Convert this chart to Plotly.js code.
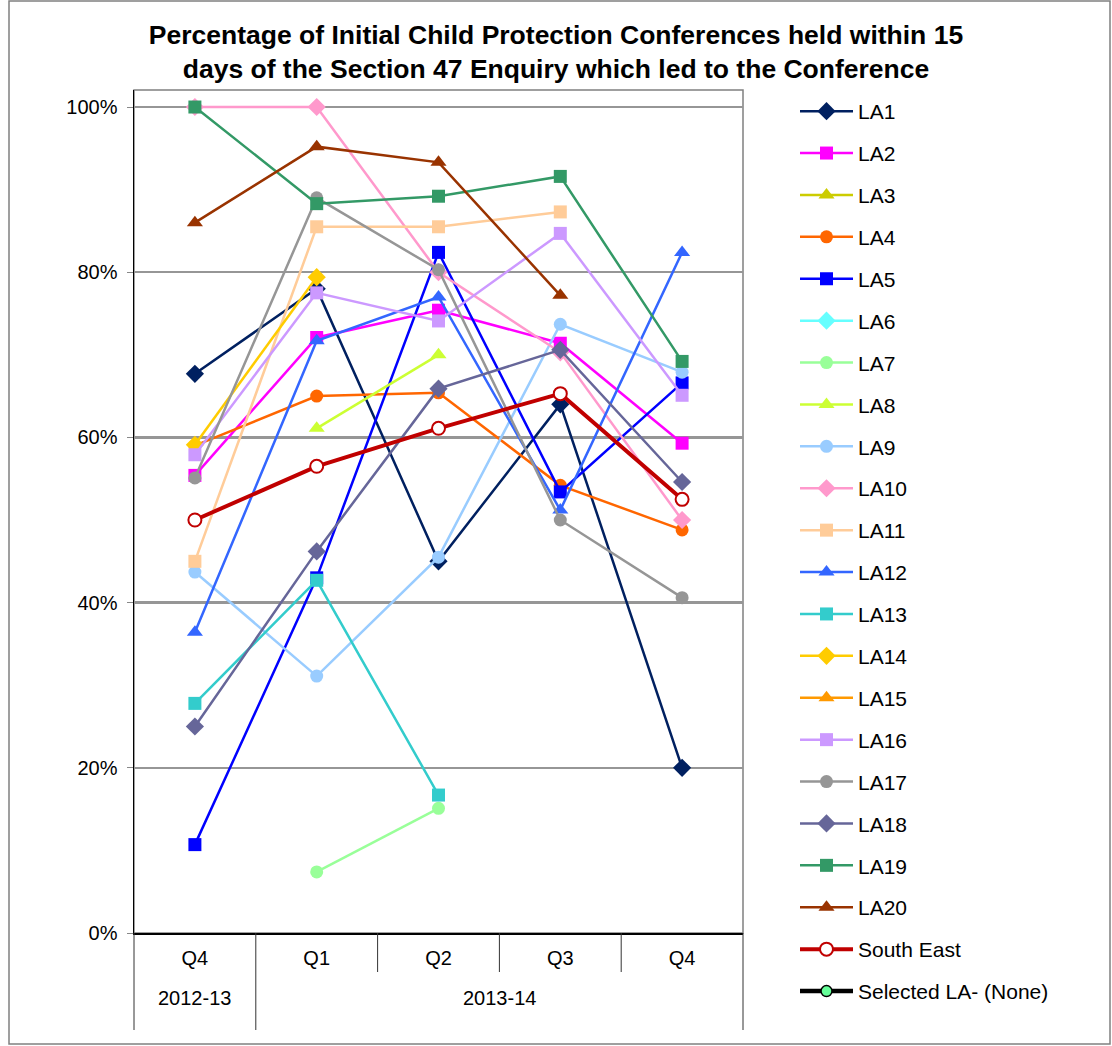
<!DOCTYPE html>
<html>
<head>
<meta charset="utf-8">
<script src="https://cdn.plot.ly/plotly-3.0.1.min.js"></script>
<style>html,body{margin:0;padding:0;background:#fff;}#chart{width:1112px;height:1046px;}</style>
</head>
<body>
<div id="chart"></div>
<script>
const years = ["2012-13", "2013-14", "2013-14", "2013-14", "2013-14"];
const quarters = ["Q4", "Q1", "Q2", "Q3", "Q4"];

const LA1 = [0.677, 0.780, 0.450, 0.640, 0.200];
const LA2 = [0.554, 0.721, 0.754, 0.714, 0.593];
const LA3 = [null, null, null, null, null];
const LA4 = [0.590, 0.650, 0.654, 0.542, 0.488];
const LA5 = [0.107, 0.430, 0.824, 0.534, 0.666];
const LA6 = [null, null, null, null, null];
const LA7 = [null, 0.074, 0.151, null, null];
const LA8 = [null, 0.611, 0.700, null, null];
const LA9 = [0.437, 0.311, 0.455, 0.737, 0.679];
const LA10 = [1.000, 1.000, 0.800, 0.703, 0.500];
const LA11 = [0.450, 0.855, 0.855, 0.873, null];
const LA12 = [0.364, 0.717, 0.770, 0.512, 0.824];
const LA13 = [0.278, 0.427, 0.167, null, null];
const LA14 = [0.591, 0.794, null, null, null];
const LA15 = [null, null, null, null, null];
const LA16 = [0.579, 0.775, 0.741, 0.847, 0.651];
const LA17 = [0.551, 0.890, 0.803, 0.500, 0.406];
const LA18 = [0.250, 0.462, 0.659, 0.706, 0.546];
const LA19 = [1.000, 0.883, 0.892, 0.916, 0.692];
const LA20 = [0.860, 0.952, 0.933, 0.772, null];
const SouthEast = [0.500, 0.565, 0.611, 0.653, 0.525];
const SelectedLA = [null, null, null, null, null];

const seriesNames = ["LA1","LA2","LA3","LA4","LA5","LA6","LA7","LA8","LA9","LA10",
  "LA11","LA12","LA13","LA14","LA15","LA16","LA17","LA18","LA19","LA20"];
const seriesValues = [LA1,LA2,LA3,LA4,LA5,LA6,LA7,LA8,LA9,LA10,
  LA11,LA12,LA13,LA14,LA15,LA16,LA17,LA18,LA19,LA20];
const colors = ["#002060","#FF00FF","#CCCC00","#FF6600","#0000FF","#66FFFF","#99FF99","#CCFF33","#99CCFF","#FF99CC",
  "#FFCC99","#3366FF","#33CCCC","#FFCC00","#FF9900","#CC99FF","#969696","#666699","#339966","#993300"];
const symbols = ["diamond","square","triangle-up","circle","square","diamond","circle","triangle-up","circle","diamond",
  "square","triangle-up","square","diamond","triangle-up","square","circle","diamond","square","triangle-up"];

const FONT = "Arial, 'Liberation Sans', sans-serif";
const xIdx = quarters.map((q, i) => i);
const traces = [];
seriesNames.forEach((n, i) => {
  const sym = symbols[i];
  let sz = 13;
  if (sym === "diamond") sz = 14;
  if (sym === "triangle-up") sz = 14;
  traces.push({
    type: "scatter", mode: "lines+markers", name: n,
    x: xIdx, y: seriesValues[i], connectgaps: false,
    line: {color: colors[i], width: 2.5},
    marker: {symbol: sym, size: sz, color: colors[i], line: {width: 0}},
    legendgroup: n
  });
});
traces.push({
  type: "scatter", mode: "lines+markers", name: "South East",
  x: xIdx, y: SouthEast,
  line: {color: "#C00000", width: 4},
  marker: {symbol: "circle", size: 13, color: "#FFFFFF", line: {color: "#C00000", width: 2}},
  legendgroup: "SE"
});
traces.push({
  type: "scatter", mode: "lines+markers", name: "Selected LA- (None)",
  x: xIdx, y: SelectedLA,
  line: {color: "#000000", width: 4.5},
  marker: {symbol: "circle", size: 11, color: "#66FF99", line: {color: "#000000", width: 1.5}},
  legendgroup: "SEL"
});

const W = 609, H = 843;
const py = (pix) => (933 - pix) / H;   // pixel row -> paper y
const px = (pix) => (pix - 134) / W;   // pixel col -> paper x

const shapes = [
  {type: "rect", xref: "paper", yref: "paper", x0: 0, x1: 1, y0: 0, y1: 1,
    line: {color: "#808080", width: 1.5}, fillcolor: "rgba(0,0,0,0)", layer: "below"},
  {type: "rect", xref: "paper", yref: "paper",
    x0: px(9), x1: px(1110), y0: py(1044), y1: py(1),
    line: {color: "#808080", width: 1.5}, fillcolor: "rgba(0,0,0,0)"}
];
for (let b = 0; b <= quarters.length; b++) {
  const isYear = (b === 0 || b === quarters.length || years[b] !== years[b - 1]);
  const xb = px(134 + b * W / quarters.length);
  shapes.push({type: "line", xref: "paper", yref: "paper", x0: xb, x1: xb,
    y0: 0, y1: isYear ? py(1030) : py(972), line: {color: "#333", width: 1}});
}
const annotations = [];
let start = 0;
for (let i = 1; i <= years.length; i++) {
  if (i === years.length || years[i] !== years[start]) {
    const center = ((start + i) / 2) / years.length;
    annotations.push({xref: "paper", yref: "paper", x: center, y: py(998),
      text: years[start], showarrow: false, xanchor: "center", yanchor: "middle",
      font: {family: FONT, size: 20, color: "#000"}});
    start = i;
  }
}

const layout = {
  width: 1112, height: 1046,
  margin: {l: 134, r: 369, t: 90, b: 113, autoexpand: false},
  paper_bgcolor: "#FFFFFF", plot_bgcolor: "#FFFFFF",
  font: {family: FONT, size: 20, color: "#000"},
  title: {
    text: "<b>Percentage of Initial Child Protection Conferences held within 15<br>days of the Section 47 Enquiry which led to the Conference</b>",
    font: {family: FONT, size: 26.5, color: "#000"},
    x: 0.5, xref: "container", xanchor: "center",
    y: 0.958, yref: "container", yanchor: "middle"
  },
  showlegend: true,
  legend: {
    x: px(795), xanchor: "left",
    y: py(91), yanchor: "top",
    maxheight: 1000,
    traceorder: "grouped", tracegroupgap: 11.6,
    itemwidth: 53,
    font: {family: FONT, size: 21, color: "#000"},
    bgcolor: "rgba(0,0,0,0)", borderwidth: 0
  },
  xaxis: {
    range: [-0.5, quarters.length - 0.5],
    tickmode: "array", tickvals: xIdx, ticktext: quarters,
    showline: true, linecolor: "#000", linewidth: 1.5,
    showgrid: false, zeroline: false,
    ticks: "outside", ticklen: 6, tickcolor: "rgba(0,0,0,0)",
    tickfont: {family: FONT, size: 20, color: "#000"},
    fixedrange: true
  },
  yaxis: {
    range: [0, 1.0206], tickmode: "array", tickvals: [0, 0.2, 0.4, 0.6, 0.8, 1.0], tickformat: ".0%",
    showline: true, linecolor: "#000", linewidth: 1.5,
    showgrid: true, gridcolor: "#969696", gridwidth: 2.5,
    zeroline: false,
    ticks: "outside", ticklen: 6, tickcolor: "#888",
    ticklabelstandoff: 5,
    tickfont: {family: FONT, size: 20, color: "#000"},
    fixedrange: true
  },
  shapes: shapes,
  annotations: annotations
};

Plotly.newPlot("chart", traces, layout, {displayModeBar: false, staticPlot: true});
</script>
</body>
</html>
